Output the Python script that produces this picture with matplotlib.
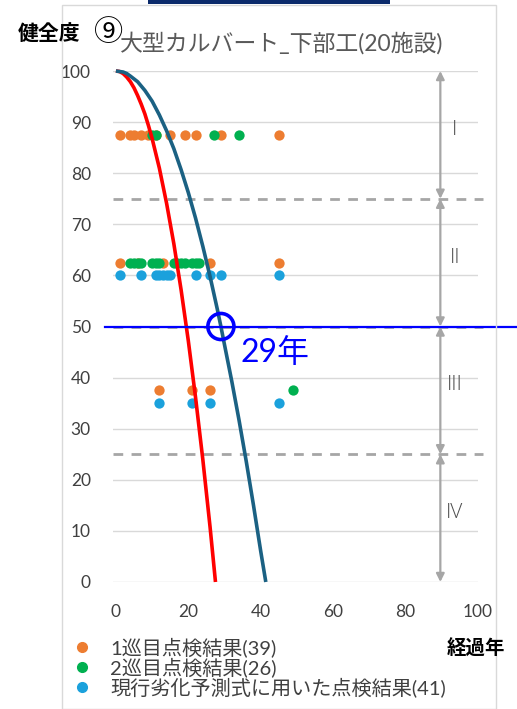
import matplotlib
matplotlib.use("Agg")
import matplotlib.pyplot as plt
from matplotlib.patches import Rectangle, Ellipse

plt.rcParams['font.family'] = ['Lato', 'Noto Sans CJK JP', 'DejaVu Sans']

# Deterioration prediction curves (age in years, soundness score)
red_age = [0, 1, 2, 3, 4, 5, 6, 7, 8, 9, 10, 12, 14, 16, 18, 20, 22, 24, 26, 27.5]
red_health = [100, 99.9, 99.5, 98.8, 97.9, 96.7, 95.2, 93.5, 91.6, 89.3, 86.8,
              81, 74.1, 66.2, 57.2, 47.2, 36.1, 24, 10.8, 0]
teal_age = [0, 1, 2, 3, 4, 6, 8, 10, 12, 14, 16, 18, 20, 22, 24, 26, 28, 29,
            30, 32, 34, 36, 38, 40, 41.4]
teal_health = [100, 99.9, 99.8, 99.5, 99.0, 97.9, 96.2, 94.1, 91.4, 88.3, 84.8,
               80.7, 76.2, 71.2, 65.7, 59.8, 53.4, 50, 46.4, 39.3, 31.7, 23.6,
               15.0, 6.0, 0]

# Inspection results (age in years) by soundness level
orange_87 = [1, 4, 5, 7, 9, 11, 15, 19, 22, 29, 45]
orange_62 = [1, 6, 13, 26, 45]
orange_37 = [12, 21, 26]
green_87 = [10, 11, 27, 34]
green_62 = [4, 5, 6, 7, 10, 11, 12, 16, 17, 18, 19, 21, 22, 23]
green_37 = [49]
blue_60 = [1, 7, 11, 12, 13, 14, 15, 22, 26, 29, 45]
blue_35 = [12, 21, 26, 45]

series_labels = ['1巡目点検結果(39)', '2巡目点検結果(26)', '現行劣化予測式に用いた点検結果(41)']
level_names = ['I', 'II', 'III', 'IV']
level_bounds = [100, 75, 50, 25, 0]
threshold_age = 29
threshold_health = 50
x_ticks = [0, 20, 40, 60, 80, 100]
y_ticks = [0, 10, 20, 30, 40, 50, 60, 70, 80, 90, 100]

C_ORANGE = '#ED7D31'
C_GREEN = '#00B050'
C_BLUE = '#1BA1DC'
C_RED = '#FF0000'
C_TEAL = '#1B6183'
C_GRAY = '#A6A6A6'
C_TEXT = '#404040'

W, H = 517, 709
fig = plt.figure(figsize=(W / 100, H / 100), dpi=100)

# outer frame and header strip
fig.patches.append(Rectangle((62 / W, 0), (496 - 62) / W, (H - 5) / H,
                             transform=fig.transFigure, fill=False,
                             edgecolor='#D9D9D9', lw=1))
fig.patches.append(Rectangle((148 / W, (H - 4) / H), (390 - 148) / W, 4 / H,
                             transform=fig.transFigure, facecolor='#0B2A6B',
                             edgecolor='none'))

ax = fig.add_axes([113 / W, (H - 582) / H, (478 - 113) / W, (582 - 71) / H])
ax.set_xlim(-0.8, 100)
ax.set_ylim(0, 100)
for s in ax.spines.values():
    s.set_visible(False)
ax.set_xticks(x_ticks)
ax.set_yticks(y_ticks)
ax.tick_params(length=0, labelsize=12.5, colors=C_TEXT)
ax.tick_params(axis='x', pad=16)
ax.tick_params(axis='y', pad=16)
ax.grid(axis='y', color='#D9D9D9', lw=1)
ax.set_axisbelow(True)

# boundaries between soundness levels
for b in level_bounds[1:-1]:
    ax.plot([-0.8, 101.5], [b, b], color=C_GRAY, lw=2, ls=(0, (3.5, 3)),
            clip_on=False, zorder=1)

# level arrows and labels
ax_x = 89.6
for i, name in enumerate(level_names):
    top, bot = level_bounds[i], level_bounds[i + 1]
    ax.annotate('', xy=(ax_x, bot), xytext=(ax_x, top),
                arrowprops=dict(arrowstyle='<|-|>', color=C_GRAY, lw=1.6,
                                mutation_scale=12, shrinkA=0, shrinkB=0),
                annotation_clip=False, zorder=2)
    ax.text(ax_x + 4, (top + bot) / 2 + 1, name, fontsize=15,
            color='#4D4D4D', ha='center', va='center',
            family=['Open Sans', 'DejaVu Sans'], fontweight='light')

ms = 55
ax.scatter(orange_87, [87.5] * len(orange_87), s=ms, color=C_ORANGE, lw=0, zorder=3)
ax.scatter(orange_62, [62.5] * len(orange_62), s=ms, color=C_ORANGE, lw=0, zorder=3)
ax.scatter(orange_37, [37.5] * len(orange_37), s=ms, color=C_ORANGE, lw=0, zorder=3)
ax.scatter(green_87, [87.5] * len(green_87), s=ms, color=C_GREEN, lw=0, zorder=3)
ax.scatter(green_62, [62.5] * len(green_62), s=ms, color=C_GREEN, lw=0, zorder=3)
ax.scatter(green_37, [37.5] * len(green_37), s=ms, color=C_GREEN, lw=0, zorder=3)
ax.scatter(blue_60, [60] * len(blue_60), s=ms, color=C_BLUE, lw=0, zorder=3)
ax.scatter(blue_35, [35] * len(blue_35), s=ms, color=C_BLUE, lw=0, zorder=3)

ax.plot(red_age, red_health, color=C_RED, lw=2.6, zorder=4, clip_on=False,
        solid_capstyle='butt', solid_joinstyle='round')
ax.plot(teal_age, teal_health, color=C_TEAL, lw=2.6, zorder=4, clip_on=False,
        solid_capstyle='butt', solid_joinstyle='round')

# threshold line and crossing marker
ax.plot([-3, 111], [threshold_health, threshold_health], color='#0000FF', lw=1.6,
        clip_on=False, zorder=5)
ax.add_patch(Ellipse((threshold_age, threshold_health), 7.2, 5.1, fill=False,
                     edgecolor='#0000FF', lw=2.6, zorder=6))
ax.text(threshold_age + 5.5, threshold_health - 5.1, f'{threshold_age}年', color='#0000FF',
        fontsize=23, ha='left', va='center')

# legend
handles = [
    plt.Line2D([], [], marker='o', ls='none', color=C_ORANGE, markersize=7),
    plt.Line2D([], [], marker='o', ls='none', color=C_GREEN, markersize=7),
    plt.Line2D([], [], marker='o', ls='none', color=C_BLUE, markersize=7),
]
leg = fig.legend(handles, series_labels, loc='upper left',
                 bbox_to_anchor=(72 / W, (H - 637) / H), frameon=False,
                 fontsize=14.5, labelspacing=0.0, handletextpad=0.9,
                 handlelength=1.0, borderpad=0, borderaxespad=0)
for t in leg.get_texts():
    t.set_color(C_TEXT)

fig.text(18 / W, (H - 34) / H, '健全度', fontsize=15, fontweight='bold',
         color='black', ha='left', va='center')
fig.text(94 / W, (H - 33) / H, '⑨', fontsize=21, color='black',
         ha='left', va='center', family=['Noto Sans CJK JP'])
fig.text(120 / W, (H - 43) / H, '大型カルバート_下部工(20施設)', fontsize=16.5,
         color='#595959', ha='left', va='center')
fig.text(447 / W, (H - 648) / H, '経過年', fontsize=14, fontweight='bold',
         color='black', ha='left', va='center')

fig.savefig('out.png', dpi=100)
